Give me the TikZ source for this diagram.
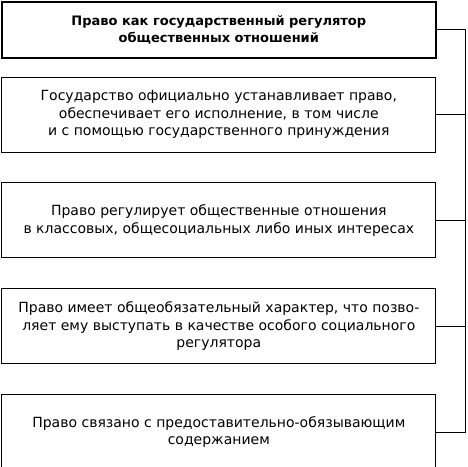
\documentclass[tikz,border=0pt]{standalone}
\usepackage{fontspec}
\setmainfont{DejaVu Sans}
\usetikzlibrary{positioning}
\newcommand{\boxwidth}{434pt}
\newcommand{\boxgap}{30pt}
\newcommand{\busx}{465pt}
\tikzset{
  factbox/.style={draw, line width=0.8pt, minimum width=\boxwidth, minimum height=75pt,
    inner sep=0pt, align=center, font=\fontsize{14}{17.5}\selectfont},
  headbox/.style={factbox, line width=1.6pt, minimum height=56pt,
    font=\bfseries\fontsize{13}{17.5}\selectfont}
}

\begin{document}
\begin{tikzpicture}
            \useasboundingbox (0,0) rectangle (468pt,-466pt);
            \node[headbox, anchor=north west] (head) at (1pt,-1pt)
            { Право как государственный регулятор\\общественных отношений };
            \node[factbox, below=18pt of head] (state)
            { Государство официально устанавливает право,\\обеспечивает его исполнение, в том числе\\и с помощью государственного принуждения };
            \node[factbox, below=\boxgap of state] (class)
            { Право регулирует общественные отношения\\в классовых, общесоциальных либо иных интересах };
            \node[factbox, below=\boxgap of class] (duty)
            { Право имеет общеобязательный характер, что позво-\\ляет ему выступать в качестве особого социального\\регулятора };
            \node[factbox, below=\boxgap of duty] (law)
            { Право связано с предоставительно-обязывающим\\содержанием };
            \coordinate (bus) at (\busx,0);
            \draw[line width=0.8pt] (head.east) -| (bus |- law.east) -- (law.east);
            \foreach \n in {state, class, duty}
            \draw[line width=0.8pt] (\n.east) -- (\n.east -| bus);
        \end{tikzpicture}
\end{document}
